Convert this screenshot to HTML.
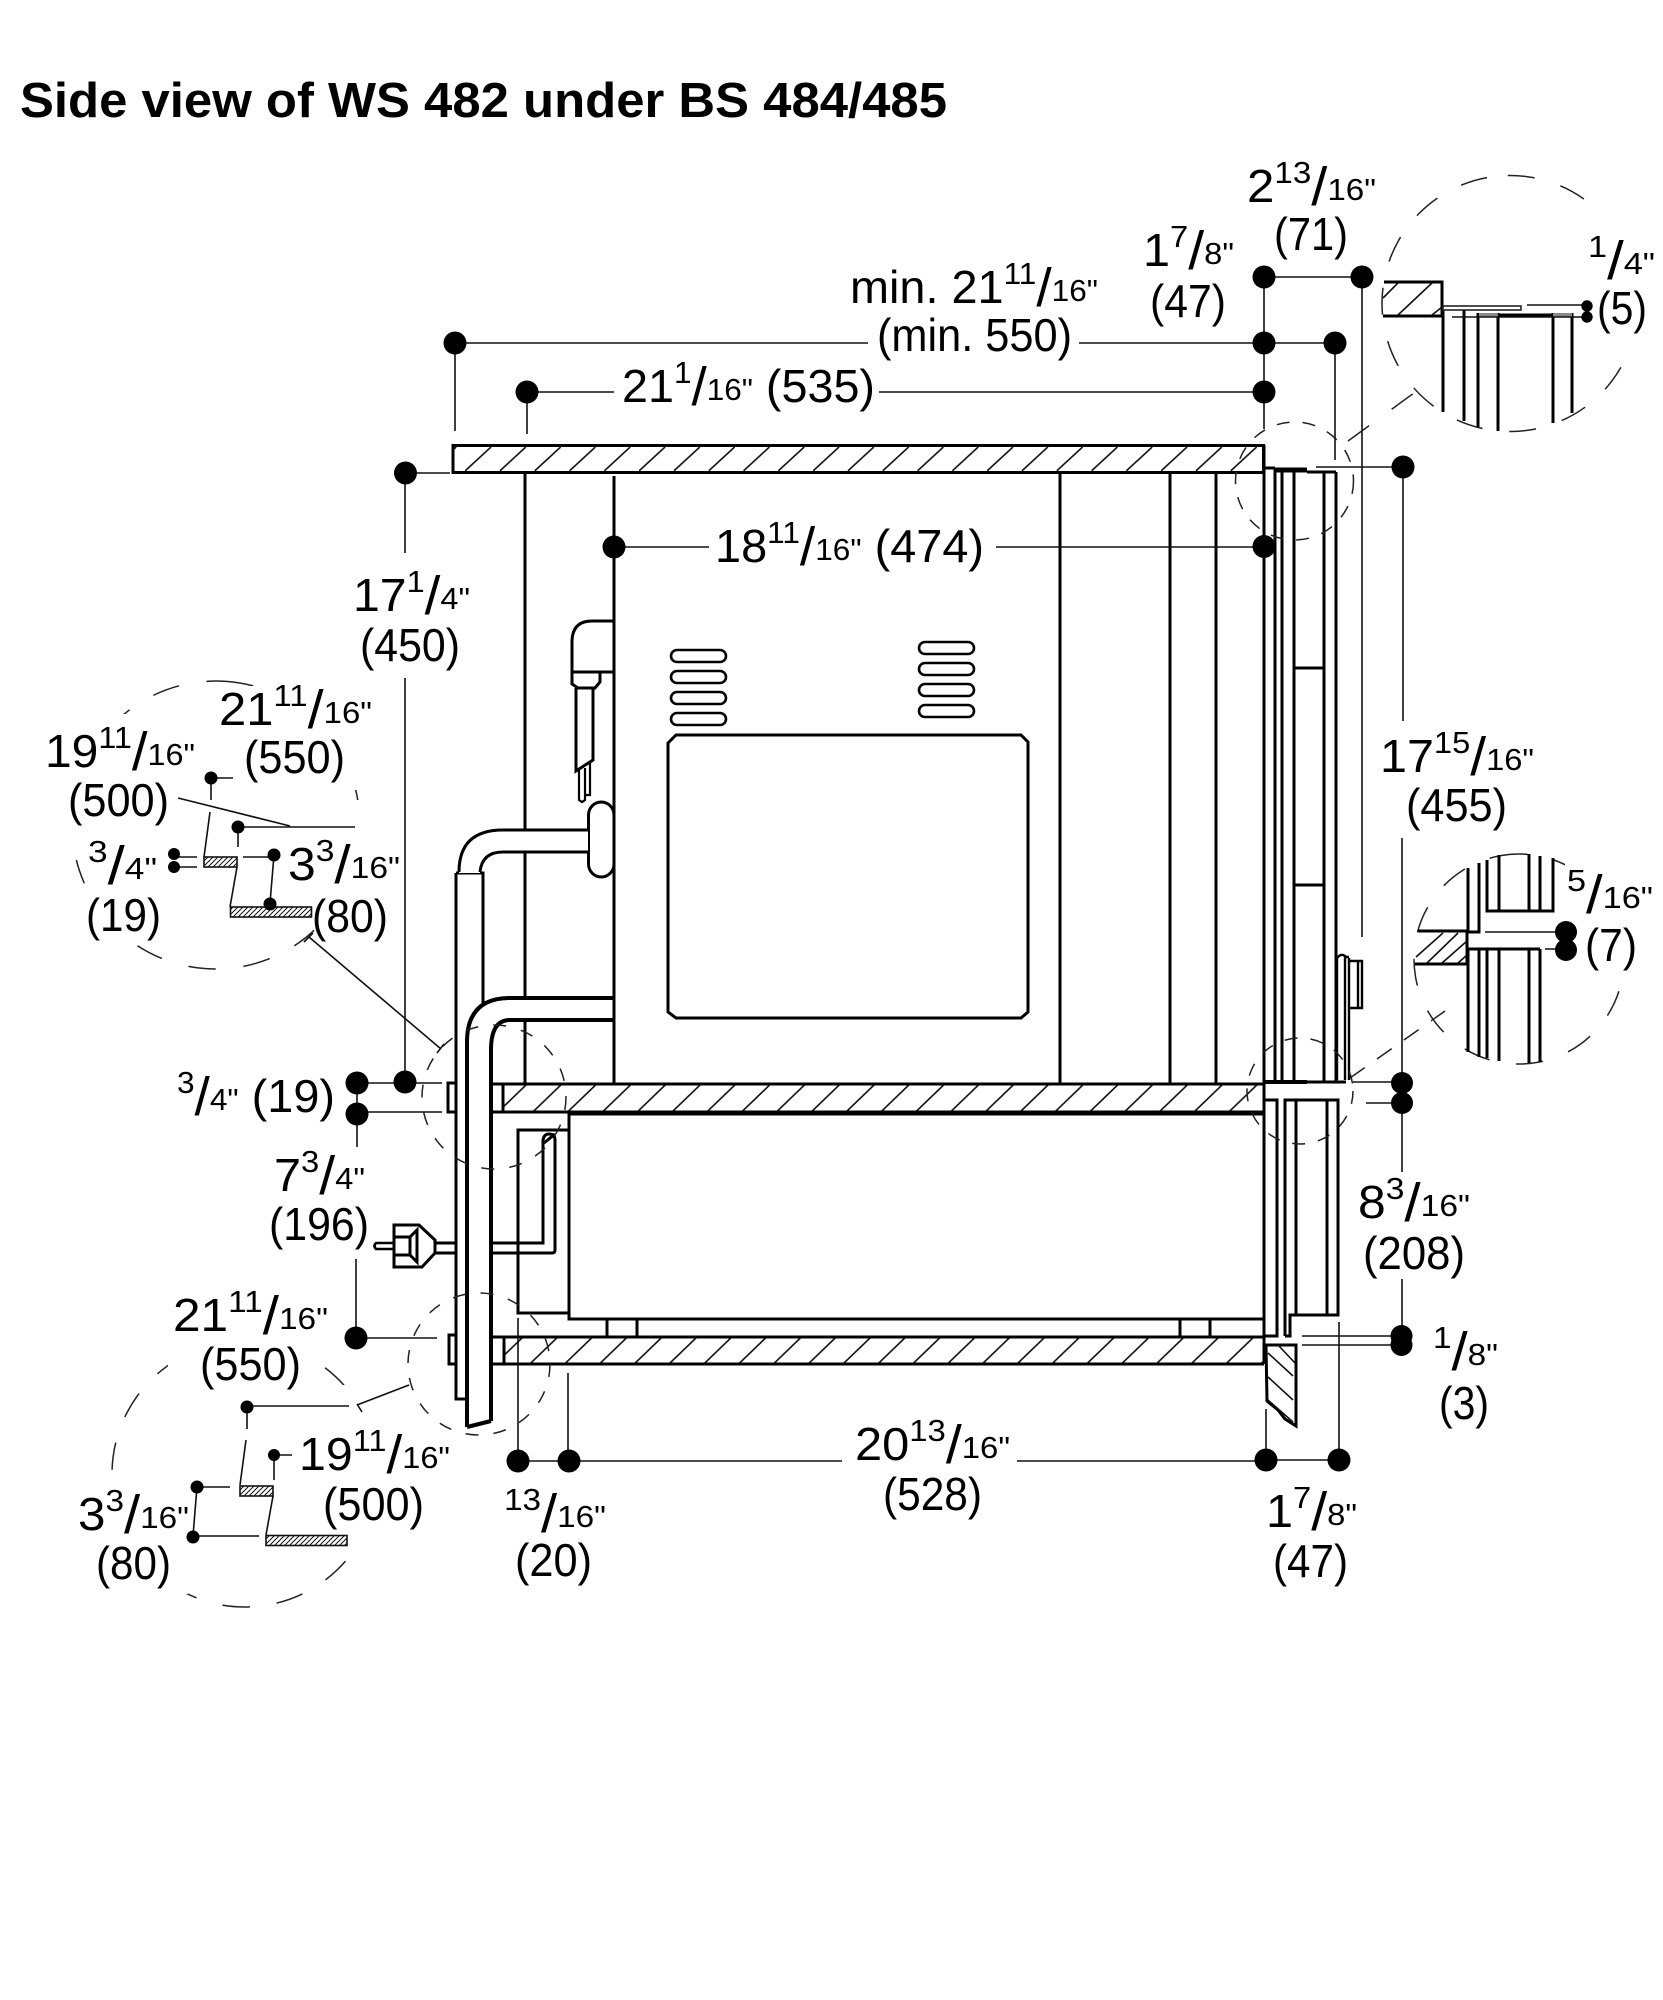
<!DOCTYPE html>
<html><head><meta charset="utf-8"><style>
html,body{margin:0;padding:0;background:#fff}
svg{display:block}
text{font-family:"Liberation Sans",sans-serif;font-size:46px;fill:#000;paint-order:stroke;stroke:#fff;stroke-width:4px;stroke-linejoin:round}
.s{font-size:31px}.l{font-size:54px}
.t{font-size:49px;font-weight:bold;stroke:none}
.k{fill:none;stroke:#000;stroke-width:3}
.n{fill:none;stroke:#111;stroke-width:1.6}
.h{fill:none;stroke:#111;stroke-width:1.6}
.d{fill:none;stroke:#222;stroke-width:1.5}
</style></head><body>
<svg xmlns="http://www.w3.org/2000/svg" width="1663" height="2000" viewBox="0 0 1663 2000">
<defs>
<pattern id="p1" patternUnits="userSpaceOnUse" width="34.8" height="24" patternTransform="translate(465 447)"><path d="M0 24L26 0" stroke="#111" stroke-width="1.6"/></pattern>
<pattern id="p2" patternUnits="userSpaceOnUse" width="34.8" height="27" patternTransform="translate(498 1085)"><path d="M0 27L28 0" stroke="#111" stroke-width="1.6"/></pattern>
<pattern id="p3" patternUnits="userSpaceOnUse" width="34.8" height="27" patternTransform="translate(495 1337)"><path d="M0 27L28 0" stroke="#111" stroke-width="1.6"/></pattern>
<pattern id="f" patternUnits="userSpaceOnUse" width="5" height="5"><path d="M0 5L5 0M-1 1L1 -1M4 6L6 4" stroke="#111" stroke-width="1"/></pattern>
</defs>

<text class="t" x="20" y="117" textLength="927" lengthAdjust="spacingAndGlyphs">Side view of WS 482 under BS 484/485</text>

<!-- cabinet shelves -->
<rect x="453" y="445.5" width="810.5" height="27" fill="url(#p1)" class="k" style="fill:url(#p1)"/>
<path class="k" d="M525 473V1084M614 476V1084M1060 473V1084M1170 473V1084M1216 473V1084"/>
<path class="k" d="M1264 445V1364M1275 468V1082M1282 468V1082M1294 472V1082M1324 472V1082M1336 472V1082M1294 668H1324M1294 885H1324"/>
<path class="k" d="M1264 468H1275M1324 472H1336"/><path d="M1275 470H1307" stroke="#000" stroke-width="5" fill="none"/><path class="k" d="M1307 472H1324"/>
<path d="M1264 1082H1307" stroke="#000" stroke-width="4" fill="none"/><path class="k" d="M1307 1082H1346"/>
<!-- right knob -->
<path class="k" style="stroke-width:2.4" d="M1337 1080V958Q1341 953 1345 956V1080M1349 958V1080M1345 957H1349M1349 961H1362V1008H1349M1358 961V1008"/>
<!-- middle / bottom shelf -->
<rect x="504" y="1085" width="760" height="26" fill="url(#p2)"/>
<rect x="504" y="1338" width="760" height="26" fill="url(#p3)"/>
<path class="k" d="M493 1084H1264M493 1112H1264M503 1084V1112M493 1337H1264M493 1364H1264M504 1337V1364"/>
<path class="k" style="stroke-width:4" d="M569 1113.5H1264"/>
<rect class="k" x="569" y="1114" width="695" height="205"/>
<path class="k" d="M607 1319V1337M637 1319V1337M1180 1319V1337M1210 1319V1337"/>
<path class="k" d="M569 1130H518V1313H569"/>
<!-- cord in compartment -->
<path class="k" d="M493 1243H543V1140Q544 1134 549 1134Q555 1134 555 1140V1250Q555 1253 552 1253H493M544 1143L555 1134"/>
<!-- right lower section -->
<path class="k" d="M1264 1100H1277V1336H1264M1285 1336V1100H1338V1315H1290V1336H1285M1296 1100V1315M1327 1100V1315"/>
<path class="k" d="M1266 1345H1296V1426L1285 1419L1278 1410L1267 1401Z"/>
<path class="h" d="M1278 1345L1295 1363M1268 1353L1293 1376M1268 1377L1293 1400M1268 1400L1293 1422"/>
<!-- oven -->
<path class="k" d="M668 743L676 735H1021L1028 742V1012L1021 1018H676L668 1012Z"/>
<g class="k" style="stroke-width:2.6">
<rect x="671" y="650" width="55" height="12" rx="6"/><rect x="671" y="671" width="55" height="12" rx="6"/><rect x="671" y="692" width="55" height="12" rx="6"/><rect x="671" y="713" width="55" height="12" rx="6"/>
<rect x="919" y="642" width="55" height="12" rx="6"/><rect x="919" y="663" width="55" height="12" rx="6"/><rect x="919" y="684" width="55" height="12" rx="6"/><rect x="919" y="705" width="55" height="12" rx="6"/>
</g>
<!-- hose -->
<path class="k" d="M614 621H592Q572 621 572 642V684L578 688H595L600 682V672M572 672H614M576 688V771L593 760V688"/>
<path class="k" style="stroke-width:2.2" d="M579 770V800L582 802L585 800V768M590 762V795H586"/>
<rect class="k" x="588.5" y="802" width="25.5" height="75" rx="13" style="fill:#fff"/>
<!-- panel and ducts -->
<path class="k" d="M456 873H483V1010M456 873V1399H467"/>
<rect class="k" x="448" y="1083" width="8" height="29"/><rect class="k" x="449" y="1335" width="7" height="29"/>
<path fill="#fff" d="M459 873Q459 830 503 830H588V852H503Q480 852 480 873Z"/>
<path class="k" d="M459 872Q459 830 503 830H588M480 872Q482 852 503 852H588"/>
<path fill="#fff" d="M467 1427V1042Q467 998 510 998H612V1020H510Q491 1020 491 1050V1421Z"/>
<path class="k" style="stroke-width:4" d="M467 1427V1042Q467 998 510 998H614M491 1421V1050Q491 1020 510 1020H614M467 1427L491 1421"/>
<path class="k" d="M614 998V1020" />
<!-- plug -->
<path class="k" d="M394 1225H419L435 1240V1253L422 1267H394ZM397 1237H410V1255H397M410 1237L417 1230V1262L410 1255M394 1237H397M394 1255H397"/>
<path class="k" style="stroke-width:2.6" d="M394 1243H376Q373 1246 376 1249H394"/>
<path class="k" d="M435 1243H456M435 1253H456"/>

<!-- dashed circles -->
<g class="d">
<circle cx="216" cy="825" r="144" stroke-dasharray="27.5 27.8" transform="rotate(-86 216 825)"/>
<circle cx="245" cy="1474" r="133" stroke-dasharray="27.5 27" transform="rotate(-100 245 1474)"/>
<circle cx="1510" cy="303.5" r="128" stroke-dasharray="27 27" transform="rotate(-91 1510 303.5)"/>
<circle cx="1519" cy="959" r="105" stroke-dasharray="27 27" transform="rotate(-100 1519 959)"/>
</g>
<!-- circle gaps where labels sit -->
<g fill="#fff">
<rect x="40" y="714" width="76" height="146"/><rect x="116" y="714" width="82" height="112"/>
<rect x="240" y="686" width="135" height="104"/><rect x="84" y="888" width="80" height="47"/>
<rect x="316" y="800" width="90" height="130"/><rect x="286" y="845" width="30" height="80"/>
<rect x="70" y="1472" width="118" height="122"/><rect x="168" y="1330" width="148" height="66"/>
<rect x="325" y="1385" width="65" height="175"/>
<rect x="1585" y="196" width="75" height="156"/><rect x="1565" y="860" width="95" height="122"/>
</g>
<g class="d">
<circle cx="494" cy="1097" r="72" stroke-dasharray="13 15.2"/>
<circle cx="479" cy="1364" r="71" stroke-dasharray="13 15"/>
<circle cx="1294.5" cy="481" r="59" stroke-dasharray="13 13"/>
<circle cx="1300" cy="1091" r="53" stroke-dasharray="13 13"/>
<path stroke-dasharray="26 28" d="M1348 441L1414 393"/>
<path stroke-dasharray="18 15" d="M1350 1078L1445 1011"/>
</g>

<!-- upper right detail -->
<path fill="#fff" d="M1384 283H1442V316H1384Z"/>
<path class="k" d="M1384 282H1442V316H1383"/>
<path class="h" d="M1398 315L1432 283M1383 298L1398 283M1432 315L1442 307"/>
<path class="k" d="M1443 307V412M1443 307H1465M1464 307V421M1478 313V427M1498 313V431M1553 313V423M1572 313V413M1478 315H1573"/>
<path d="M1479 313H1498V317H1479ZM1553 313H1572V317H1553Z" fill="#888"/>
<rect x="1443" y="306" width="78" height="4" fill="#fff" stroke="#222" stroke-width="1.6"/>
<path class="n" d="M1527 305H1583M1452 317H1583"/>

<!-- right-mid detail -->
<path fill="#fff" d="M1418 932H1467V964H1418Z"/>
<path class="k" d="M1418 931H1467M1415 964H1467M1467 931V964"/>
<path class="h" d="M1416 957L1443 933M1427 963L1458 933M1442 963L1467 941M1458 963L1467 955"/>
<path class="k" d="M1468 868V932H1479V863M1487 860V911H1553V858M1499 855V911M1529 854V911M1540 856V911"/>
<path class="k" d="M1467 949H1540M1468 949V1052M1479 949V1057M1487 949V1058M1499 949V1061M1529 949V1063M1540 949V1062"/>
<path class="n" d="M1485 932H1555M1545 949H1557"/>

<!-- upper-left detail -->
<path class="n" d="M211 778H233M211 778V800M210 812L204 857M237 867L230 907M238 827H355M238 827V847M178 798L290 826M174 857H197M174 867H197M243 857H274M274 855L270 903M309 937L441 1049"/>
<path class="n" d="M304 942L313 933M437 1053L444 1044"/>
<rect x="204" y="857" width="33" height="10" fill="url(#f)" stroke="#111" stroke-width="1.6"/>
<rect x="230.500" y="907" width="81" height="10" fill="url(#f)" stroke="#111" stroke-width="1.6"/>

<!-- lower-left detail -->
<path class="n" d="M247 1406H349M247 1406V1429M246 1440L240 1485M273 1496L266 1535M274 1455H292M274 1455V1480M197 1487H230M193 1536H259M197 1487L193 1536M357 1405L409 1385M357 1404L362 1412"/>
<rect x="240" y="1486" width="33" height="10" fill="url(#f)" stroke="#111" stroke-width="1.6"/>
<rect x="266" y="1535.500" width="81" height="10" fill="url(#f)" stroke="#111" stroke-width="1.6"/>

<!-- dimension lines -->
<path class="n" d="M455 343H868M1079 343H1335M455 343V431M527 392H614M527 392V434M879 392H1264M405 473H450M405 473V553M405 678V1082M614 547H709M996 547H1264M1264 277H1362M1264 277V429M1335 343V460M1362 277V937M1316 467H1403M1403 467V721M1402 838V1172M1402 1279V1340M1353 1082H1402M1366 1103H1402M1302 1336H1401M1302 1345H1401M1266 1409V1460M1339 1322V1460M1266 1460H1339M518 1318V1461M568 1373V1461M518 1461H842M1017 1461H1266M357 1083H442M357 1112H442M357 1083V1147M356 1259V1338M356 1338H437"/>

<!-- labels -->
<g>
<text x="850" y="303" textLength="248" lengthAdjust="spacingAndGlyphs">min. 21<tspan class="s" dy="-19">11</tspan><tspan class="l" dy="22">/</tspan><tspan class="s" dy="-5">16"</tspan></text>
<text x="877" y="351" textLength="195" lengthAdjust="spacingAndGlyphs">(min. 550)</text>
<text x="622" y="402" textLength="253" lengthAdjust="spacingAndGlyphs">21<tspan class="s" dy="-19">1</tspan><tspan class="l" dy="22">/</tspan><tspan class="s" dy="-5">16"</tspan><tspan dy="2"> (535)</tspan></text>
<text x="715" y="562" textLength="269" lengthAdjust="spacingAndGlyphs">18<tspan class="s" dy="-19">11</tspan><tspan class="l" dy="22">/</tspan><tspan class="s" dy="-5">16"</tspan><tspan dy="2"> (474)</tspan></text>
<text x="1143" y="266" textLength="91" lengthAdjust="spacingAndGlyphs">1<tspan class="s" dy="-19">7</tspan><tspan class="l" dy="22">/</tspan><tspan class="s" dy="-5">8"</tspan></text>
<text x="1150" y="317" textLength="76" lengthAdjust="spacingAndGlyphs">(47)</text>
<text x="1247" y="202" textLength="129" lengthAdjust="spacingAndGlyphs">2<tspan class="s" dy="-19">13</tspan><tspan class="l" dy="22">/</tspan><tspan class="s" dy="-5">16"</tspan></text>
<text x="1274" y="250" textLength="74" lengthAdjust="spacingAndGlyphs">(71)</text>
<text x="1588" y="276" textLength="67" lengthAdjust="spacingAndGlyphs"><tspan class="s" dy="-19">1</tspan><tspan class="l" dy="22">/</tspan><tspan class="s" dy="-5">4"</tspan></text>
<text x="1597" y="324" textLength="50" lengthAdjust="spacingAndGlyphs">(5)</text>
<text x="1380" y="772" textLength="154" lengthAdjust="spacingAndGlyphs">17<tspan class="s" dy="-19">15</tspan><tspan class="l" dy="22">/</tspan><tspan class="s" dy="-5">16"</tspan></text>
<text x="1406" y="821" textLength="101" lengthAdjust="spacingAndGlyphs">(455)</text>
<text x="353" y="611" textLength="117" lengthAdjust="spacingAndGlyphs">17<tspan class="s" dy="-19">1</tspan><tspan class="l" dy="22">/</tspan><tspan class="s" dy="-5">4"</tspan></text>
<text x="360" y="661" textLength="100" lengthAdjust="spacingAndGlyphs">(450)</text>
<text x="219" y="725" textLength="153" lengthAdjust="spacingAndGlyphs">21<tspan class="s" dy="-19">11</tspan><tspan class="l" dy="22">/</tspan><tspan class="s" dy="-5">16"</tspan></text>
<text x="244" y="773" textLength="101" lengthAdjust="spacingAndGlyphs">(550)</text>
<text x="45" y="767" textLength="150" lengthAdjust="spacingAndGlyphs">19<tspan class="s" dy="-19">11</tspan><tspan class="l" dy="22">/</tspan><tspan class="s" dy="-5">16"</tspan></text>
<text x="68" y="816" textLength="101" lengthAdjust="spacingAndGlyphs">(500)</text>
<text x="88" y="881" textLength="69" lengthAdjust="spacingAndGlyphs"><tspan class="s" dy="-19">3</tspan><tspan class="l" dy="22">/</tspan><tspan class="s" dy="-5">4"</tspan></text>
<text x="86" y="931" textLength="75" lengthAdjust="spacingAndGlyphs">(19)</text>
<text x="288" y="880" textLength="112" lengthAdjust="spacingAndGlyphs">3<tspan class="s" dy="-19">3</tspan><tspan class="l" dy="22">/</tspan><tspan class="s" dy="-5">16"</tspan></text>
<text x="312" y="932" textLength="76" lengthAdjust="spacingAndGlyphs">(80)</text>
<text x="177" y="1112" textLength="158" lengthAdjust="spacingAndGlyphs"><tspan class="s" dy="-19">3</tspan><tspan class="l" dy="22">/</tspan><tspan class="s" dy="-5">4"</tspan><tspan dy="2"> (19)</tspan></text>
<text x="274" y="1191" textLength="91" lengthAdjust="spacingAndGlyphs">7<tspan class="s" dy="-19">3</tspan><tspan class="l" dy="22">/</tspan><tspan class="s" dy="-5">4"</tspan></text>
<text x="269" y="1240" textLength="100" lengthAdjust="spacingAndGlyphs">(196)</text>
<text x="173" y="1331" textLength="155" lengthAdjust="spacingAndGlyphs">21<tspan class="s" dy="-19">11</tspan><tspan class="l" dy="22">/</tspan><tspan class="s" dy="-5">16"</tspan></text>
<text x="200" y="1380" textLength="101" lengthAdjust="spacingAndGlyphs">(550)</text>
<text x="299" y="1470" textLength="151" lengthAdjust="spacingAndGlyphs">19<tspan class="s" dy="-19">11</tspan><tspan class="l" dy="22">/</tspan><tspan class="s" dy="-5">16"</tspan></text>
<text x="323" y="1520" textLength="101" lengthAdjust="spacingAndGlyphs">(500)</text>
<text x="78" y="1530" textLength="111" lengthAdjust="spacingAndGlyphs">3<tspan class="s" dy="-19">3</tspan><tspan class="l" dy="22">/</tspan><tspan class="s" dy="-5">16"</tspan></text>
<text x="96" y="1579" textLength="75" lengthAdjust="spacingAndGlyphs">(80)</text>
<text x="504" y="1529" textLength="102" lengthAdjust="spacingAndGlyphs"><tspan class="s" dy="-19">13</tspan><tspan class="l" dy="22">/</tspan><tspan class="s" dy="-5">16"</tspan></text>
<text x="515" y="1576" textLength="77" lengthAdjust="spacingAndGlyphs">(20)</text>
<text x="855" y="1460" textLength="155" lengthAdjust="spacingAndGlyphs">20<tspan class="s" dy="-19">13</tspan><tspan class="l" dy="22">/</tspan><tspan class="s" dy="-5">16"</tspan></text>
<text x="883" y="1510" textLength="99" lengthAdjust="spacingAndGlyphs">(528)</text>
<text x="1266" y="1527" textLength="91" lengthAdjust="spacingAndGlyphs">1<tspan class="s" dy="-19">7</tspan><tspan class="l" dy="22">/</tspan><tspan class="s" dy="-5">8"</tspan></text>
<text x="1273" y="1577" textLength="75" lengthAdjust="spacingAndGlyphs">(47)</text>
<text x="1358" y="1218" textLength="112" lengthAdjust="spacingAndGlyphs">8<tspan class="s" dy="-19">3</tspan><tspan class="l" dy="22">/</tspan><tspan class="s" dy="-5">16"</tspan></text>
<text x="1363" y="1269" textLength="102" lengthAdjust="spacingAndGlyphs">(208)</text>
<text x="1433" y="1367" textLength="65" lengthAdjust="spacingAndGlyphs"><tspan class="s" dy="-19">1</tspan><tspan class="l" dy="22">/</tspan><tspan class="s" dy="-5">8"</tspan></text>
<text x="1439" y="1419" textLength="50" lengthAdjust="spacingAndGlyphs">(3)</text>
<text x="1567" y="910" textLength="86" lengthAdjust="spacingAndGlyphs"><tspan class="s" dy="-19">5</tspan><tspan class="l" dy="22">/</tspan><tspan class="s" dy="-5">16"</tspan></text>
<text x="1585" y="961" textLength="52" lengthAdjust="spacingAndGlyphs">(7)</text>
</g>

<!-- dots -->
<g fill="#000">
<circle cx="455" cy="343" r="11.500"/><circle cx="527" cy="392" r="11.500"/><circle cx="405.500" cy="473" r="11.500"/><circle cx="614" cy="547" r="11.500"/>
<circle cx="1264" cy="277" r="11.500"/><circle cx="1362" cy="277" r="11.500"/><circle cx="1264" cy="343" r="11.500"/><circle cx="1335" cy="343" r="11.500"/><circle cx="1264" cy="392" r="11.500"/><circle cx="1264" cy="546.500" r="11.500"/><circle cx="1403" cy="467" r="11.500"/>
<circle cx="1402" cy="1083" r="11"/><circle cx="1402" cy="1103" r="11"/><circle cx="1401.500" cy="1336" r="11"/><circle cx="1401.500" cy="1345" r="11"/>
<circle cx="1266" cy="1460" r="11.500"/><circle cx="1339" cy="1460" r="11.500"/><circle cx="518" cy="1461" r="11.500"/><circle cx="569" cy="1461" r="11.500"/>
<circle cx="357" cy="1083" r="11.500"/><circle cx="357" cy="1114" r="11.500"/><circle cx="405" cy="1082" r="11.500"/><circle cx="356" cy="1338" r="11.500"/>
<circle cx="1587" cy="306" r="5.700"/><circle cx="1587" cy="317" r="5.700"/><circle cx="1566" cy="932" r="11"/><circle cx="1566" cy="950" r="11"/>
<circle cx="211" cy="778" r="6.500"/><circle cx="238" cy="827" r="6.500"/><circle cx="174" cy="854" r="6"/><circle cx="174" cy="867" r="6"/><circle cx="274" cy="855" r="6.500"/><circle cx="270" cy="904" r="6.500"/>
<circle cx="247" cy="1407" r="6.500"/><circle cx="274" cy="1455" r="6"/><circle cx="197" cy="1487" r="6.500"/><circle cx="193" cy="1537" r="6.500"/>
</g>
</svg>
</body></html>
